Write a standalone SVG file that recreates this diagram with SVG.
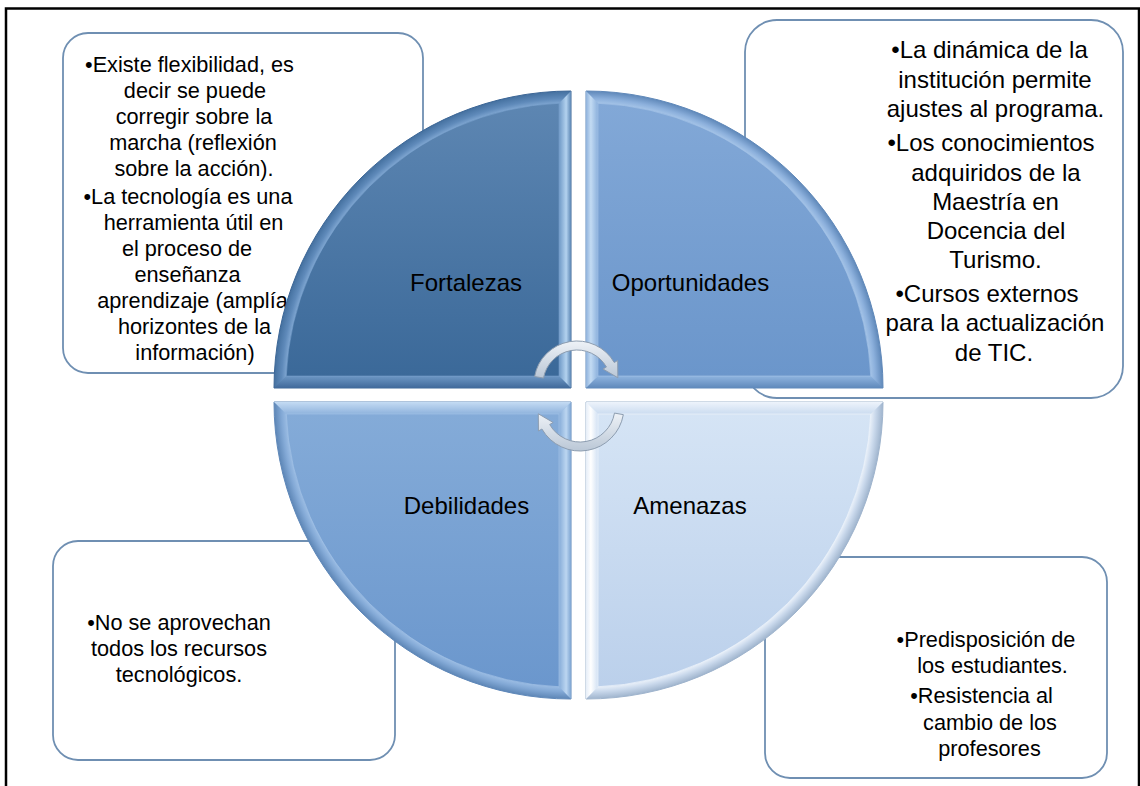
<svg xmlns="http://www.w3.org/2000/svg" width="1140" height="786" viewBox="0 0 1140 786">
<style>
.t{font-family:"Liberation Sans",Arial,sans-serif;fill:#000;text-anchor:middle}
.s{font-size:21.7px}
.m{font-size:24px}
.box{fill:#fff;stroke:#6f8fb2;stroke-width:1.8}
.arrow{fill:url(#gArrow);stroke:#8d9db0;stroke-width:1}
</style>
<defs>
<linearGradient id="gArrow" x1="0" y1="0" x2="0" y2="1"><stop offset="0" stop-color="#eef2f7"/><stop offset="1" stop-color="#bac7d6"/></linearGradient>
<!-- TL -->
<linearGradient id="fTL" x1="0" y1="0" x2="0" y2="1"><stop offset="0" stop-color="#5d86b2"/><stop offset="1" stop-color="#3b6999"/></linearGradient>
<radialGradient id="aTL" gradientUnits="userSpaceOnUse" cx="571" cy="388" r="297"><stop offset="0.955" stop-color="#86acd6"/><stop offset="0.975" stop-color="#5f8aba"/><stop offset="1" stop-color="#44709f"/></radialGradient>
<linearGradient id="rTL" x1="0" y1="0" x2="1" y2="0"><stop offset="0" stop-color="#6f99c6"/><stop offset="0.6" stop-color="#b3d2ef"/><stop offset="1" stop-color="#5c86b4"/></linearGradient>
<linearGradient id="bTL" x1="0" y1="0" x2="0" y2="1"><stop offset="0" stop-color="#6d97c4"/><stop offset="1" stop-color="#40699a"/></linearGradient>
<!-- TR -->
<linearGradient id="fTR" x1="0" y1="0" x2="0" y2="1"><stop offset="0" stop-color="#82a8d7"/><stop offset="1" stop-color="#6b96cb"/></linearGradient>
<radialGradient id="aTR" gradientUnits="userSpaceOnUse" cx="586" cy="388" r="297"><stop offset="0.955" stop-color="#aac8ea"/><stop offset="0.975" stop-color="#8cb0dc"/><stop offset="1" stop-color="#5f88b9"/></radialGradient>
<linearGradient id="lTR" x1="0" y1="0" x2="1" y2="0"><stop offset="0" stop-color="#8fb2dc"/><stop offset="0.4" stop-color="#c3dbf3"/><stop offset="1" stop-color="#8bb0dc"/></linearGradient>
<linearGradient id="bTR" x1="0" y1="0" x2="0" y2="1"><stop offset="0" stop-color="#8fb4df"/><stop offset="1" stop-color="#5f89bb"/></linearGradient>
<!-- BL -->
<linearGradient id="fBL" x1="0" y1="0" x2="0" y2="1"><stop offset="0" stop-color="#84abd8"/><stop offset="1" stop-color="#6b97cd"/></linearGradient>
<radialGradient id="aBL" gradientUnits="userSpaceOnUse" cx="571" cy="402" r="297"><stop offset="0.955" stop-color="#9fc0e6"/><stop offset="0.975" stop-color="#83a9d6"/><stop offset="1" stop-color="#5d86b6"/></radialGradient>
<linearGradient id="rBL" x1="0" y1="0" x2="1" y2="0"><stop offset="0" stop-color="#86acd8"/><stop offset="0.6" stop-color="#bcd6f1"/><stop offset="1" stop-color="#7ea5d2"/></linearGradient>
<linearGradient id="tBL" x1="0" y1="0" x2="0" y2="1"><stop offset="0" stop-color="#c4dbf3"/><stop offset="1" stop-color="#8fb3dd"/></linearGradient>
<!-- BR -->
<linearGradient id="fBR" x1="0" y1="0" x2="0" y2="1"><stop offset="0" stop-color="#d5e4f5"/><stop offset="1" stop-color="#bbd0eb"/></linearGradient>
<radialGradient id="aBR" gradientUnits="userSpaceOnUse" cx="586" cy="402" r="297"><stop offset="0.955" stop-color="#f1f6fc"/><stop offset="0.975" stop-color="#cad9ec"/><stop offset="1" stop-color="#9fb4cd"/></radialGradient>
<linearGradient id="lBR" x1="0" y1="0" x2="1" y2="0"><stop offset="0" stop-color="#e6eef8"/><stop offset="0.4" stop-color="#ffffff"/><stop offset="1" stop-color="#d2e1f3"/></linearGradient>
<linearGradient id="tBR" x1="0" y1="0" x2="0" y2="1"><stop offset="0" stop-color="#edf3fb"/><stop offset="1" stop-color="#cbdcf0"/></linearGradient>
</defs>

<rect x="0" y="0" width="1140" height="786" fill="#fff"/>
<path d="M6,786 V8.5 H1139 V786" fill="none" stroke="#000" stroke-width="2.5"/>

<g id="box-fortalezas">
<rect class="box" x="63" y="33" width="360" height="340" rx="25"/>
<text class="t s" x="189.5" y="72">•Existe flexibilidad, es</text>
<text class="t s" x="195" y="98">decir se puede</text>
<text class="t s" x="194" y="124">corregir sobre la</text>
<text class="t s" x="193" y="150">marcha (reflexión</text>
<text class="t s" x="194" y="176">sobre la acción).</text>
<text class="t s" x="188" y="204">•La tecnología es una</text>
<text class="t s" x="193.5" y="230">herramienta útil en</text>
<text class="t s" x="187" y="256">el proceso de</text>
<text class="t s" x="187.5" y="282">enseñanza</text>
<text class="t s" x="192.5" y="308">aprendizaje (amplía</text>
<text class="t s" x="194.5" y="334">horizontes de la</text>
<text class="t s" x="195" y="360">información)</text>
</g>

<g id="box-oportunidades">
<rect class="box" x="745" y="20" width="378" height="378" rx="32"/>
<text class="t m" x="989.5" y="58">•La dinámica de la</text>
<text class="t m" x="995" y="87.5">institución permite</text>
<text class="t m" x="995.5" y="117">ajustes al programa.</text>
<text class="t m" x="991" y="151">•Los conocimientos</text>
<text class="t m" x="996" y="180.5">adquiridos de la</text>
<text class="t m" x="995.5" y="209.5">Maestría en</text>
<text class="t m" x="996" y="239">Docencia del</text>
<text class="t m" x="995.5" y="268">Turismo.</text>
<text class="t m" x="987" y="302">•Cursos externos</text>
<text class="t m" x="995" y="331">para la actualización</text>
<text class="t m" x="994" y="361">de TIC.</text>
</g>

<g id="box-debilidades">
<rect class="box" x="53" y="541" width="342" height="219" rx="25"/>
<text class="t s" x="179" y="630">•No se aprovechan</text>
<text class="t s" x="179" y="656">todos los recursos</text>
<text class="t s" x="179" y="682">tecnológicos.</text>
</g>

<g id="box-amenazas">
<rect class="box" x="765" y="557" width="342" height="221" rx="25"/>
<text class="t s" x="986" y="647">•Predisposición de</text>
<text class="t s" x="992.5" y="673">los estudiantes.</text>
<text class="t s" x="981.5" y="703">•Resistencia al</text>
<text class="t s" x="990" y="730">cambio de los</text>
<text class="t s" x="989.5" y="756">profesores</text>
</g>

<g id="node-fortalezas">
<path d="M571,388 L274,388 A297,297 0 0 1 571,91 Z" fill="url(#aTL)" stroke="#3c6696" stroke-width="1"/>
<path d="M571,91 L571,388 L559,376 L559,103.25 Z" fill="url(#rTL)"/>
<path d="M274,388 L571,388 L559,376 L286.25,376 Z" fill="url(#bTL)"/>
<path d="M559,376 L286.25,376 A285,285 0 0 1 559,103.25 Z" fill="url(#fTL)" stroke="#7ea6d1" stroke-opacity="0.5" stroke-width="1"/>
<text class="t m" x="466" y="291">Fortalezas</text>
</g>

<g id="node-oportunidades">
<path d="M586,388 L586,91 A297,297 0 0 1 883,388 Z" fill="url(#aTR)" stroke="#5f88b9" stroke-width="1"/>
<path d="M586,91 L586,388 L598,376 L598,103.25 Z" fill="url(#lTR)"/>
<path d="M586,388 L883,388 L870.75,376 L598,376 Z" fill="url(#bTR)"/>
<path d="M598,376 L598,103.25 A285,285 0 0 1 870.75,376 Z" fill="url(#fTR)" stroke="#a6c4e8" stroke-opacity="0.6" stroke-width="1"/>
<text class="t m" x="690.5" y="291">Oportunidades</text>
</g>

<g id="node-debilidades">
<path d="M571,402 L571,699 A297,297 0 0 1 274,402 Z" fill="url(#aBL)" stroke="#5f88b9" stroke-width="1"/>
<path d="M571,402 L571,699 L559,686.75 L559,414 Z" fill="url(#rBL)"/>
<path d="M274,402 L571,402 L559,414 L286.25,414 Z" fill="url(#tBL)"/>
<path d="M559,414 L559,686.75 A285,285 0 0 1 286.25,414 Z" fill="url(#fBL)" stroke="#a6c4e8" stroke-opacity="0.6" stroke-width="1"/>
<text class="t m" x="466.5" y="514">Debilidades</text>
</g>

<g id="node-amenazas">
<path d="M586,402 L883,402 A297,297 0 0 1 586,699 Z" fill="url(#aBR)" stroke="#9fb4cd" stroke-width="1"/>
<path d="M586,402 L586,699 L598,686.75 L598,414 Z" fill="url(#lBR)"/>
<path d="M586,402 L883,402 L870.75,414 L598,414 Z" fill="url(#tBR)"/>
<path d="M598,414 L870.75,414 A285,285 0 0 1 598,686.75 Z" fill="url(#fBR)" stroke="#eef4fb" stroke-opacity="0.7" stroke-width="1"/>
<text class="t m" x="690" y="514">Amenazas</text>
</g>

<g id="connectors">
<path class="arrow" d="M534.65,376.53 A43,43 0 0 1 614.24,362.5 L617.7,360.5 L617.84,377.74 L602.98,369 L606.44,367 A34,34 0 0 0 543.52,378.1 Z"/>
<path class="arrow" d="M623.33,414.64 A44,44 0 0 1 541.9,429 L538.43,431 L538.29,413.76 L553.15,422.5 L549.69,424.5 A35,35 0 0 0 614.47,413.08 Z"/>
</g>
</svg>
